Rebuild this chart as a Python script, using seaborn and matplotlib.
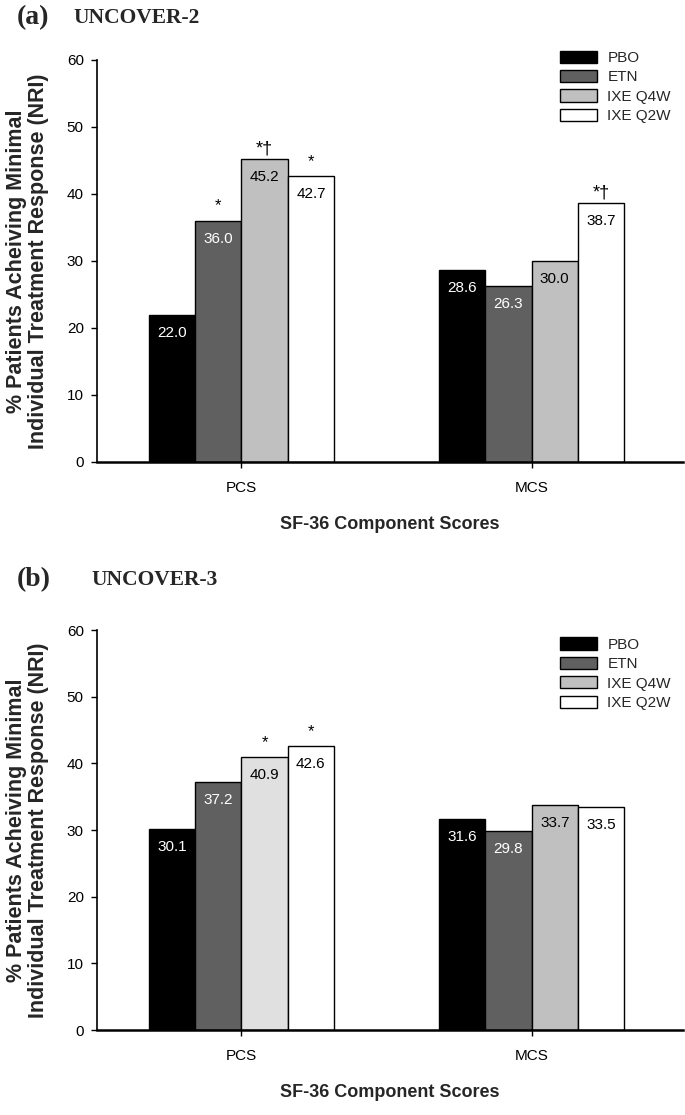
import matplotlib
matplotlib.use('Agg')
import matplotlib.pyplot as plt
import seaborn as sns
import pandas as pd

components = ['PCS', 'MCS']
treatments = ['PBO', 'ETN', 'IXE Q4W', 'IXE Q2W']

# UNCOVER-2
u2_pbo = [22.0, 28.6]
u2_etn = [36.0, 26.3]
u2_q4w = [45.2, 30.0]
u2_q2w = [42.7, 38.7]
u2_marks = {('ETN', 'PCS'): '*', ('IXE Q4W', 'PCS'): '*\u2020',
            ('IXE Q2W', 'PCS'): '*', ('IXE Q2W', 'MCS'): '*\u2020'}

# UNCOVER-3
u3_pbo = [30.1, 31.6]
u3_etn = [37.2, 29.8]
u3_q4w = [40.9, 33.7]
u3_q2w = [42.6, 33.5]
u3_marks = {('IXE Q4W', 'PCS'): '*', ('IXE Q2W', 'PCS'): '*'}

colors = ['#000000', '#606060', '#c0c0c0', '#ffffff']
label_colors = ['white', 'white', 'black', 'black']

sns.set_style('white')
plt.rcParams['font.family'] = ['Liberation Sans', 'DejaVu Sans']


def make_df(pbo, etn, q4w, q2w):
    rows = []
    for t, vals in zip(treatments, [pbo, etn, q4w, q2w]):
        for c, v in zip(components, vals):
            rows.append({'component': c, 'treatment': t, 'value': v})
    return pd.DataFrame(rows)


def draw_panel(ax, df, marks, leg_y):
    sns.barplot(data=df, x='component', y='value', hue='treatment',
                hue_order=treatments, order=components, palette=colors,
                width=0.638, gap=0, edgecolor='black', linewidth=1.0,
                saturation=1, errorbar=None, ax=ax)
    ax.set_ylim(0, 60)
    ax.set_xlim(-0.498, 1.522)
    ax.set_yticks(range(0, 61, 10))
    ax.tick_params(axis='both', direction='out', length=4.5, width=1,
                   labelsize=11, left=True, bottom=True, colors='black')
    ax.tick_params(axis='y', pad=5)
    ax.tick_params(axis='x', pad=9)
    sns.despine(ax=ax)
    ax.spines['left'].set_linewidth(1.2)
    ax.spines['bottom'].set_linewidth(1.8)
    ax.spines['left'].set_color('black')
    ax.spines['bottom'].set_color('black')
    ax.set_xlabel('SF-36 Component Scores', fontsize=13, fontweight='bold', labelpad=15)
    ax.set_ylabel('% Patients Acheiving Minimal\nIndividual Treatment Response (NRI)',
                  fontsize=15.5, fontweight='bold', linespacing=1.05)
    ax.yaxis.set_label_coords(-0.082, 0.5)

    for cont, t, lc in zip(ax.containers, treatments, label_colors):
        ax.bar_label(cont, fmt='%.1f', padding=-18, color=lc, fontsize=11)
        for bar, c in zip(cont, components):
            m = marks.get((t, c))
            if m == '*':
                x = bar.get_x() + bar.get_width() / 2
                ax.text(x, bar.get_height() + 2.2, m, ha='center', va='center',
                        fontsize=12, color='black')
            elif m:
                x = bar.get_x() + bar.get_width() / 2
                ax.text(x, bar.get_height() + 0.2, m, ha='center', va='bottom',
                        fontsize=13, color='black')

    ax.legend(title=None, frameon=False, loc='upper left',
              bbox_to_anchor=(0.8175, leg_y), bbox_transform=ax.figure.transFigure,
              borderaxespad=0, borderpad=0, fontsize=11,
              handlelength=2.45, handleheight=0.85, labelspacing=0.33,
              handletextpad=0.65)


fig = plt.figure(figsize=(6.85, 11.15), dpi=100)
ax1 = fig.add_axes([0.1416, 0.5857, 0.8555, 0.3605])
ax2 = fig.add_axes([0.1416, 0.0762, 0.8555, 0.3587])

draw_panel(ax1, make_df(u2_pbo, u2_etn, u2_q4w, u2_q2w), u2_marks, 0.9547)
draw_panel(ax2, make_df(u3_pbo, u3_etn, u3_q4w, u3_q2w), u3_marks, 0.4283)

# lighter IXE Q4W bar for PCS in UNCOVER-3
ax2.containers[2][0].set_facecolor('#e0e0e0')

fig.text(0.025, 0.9839, '(a)', fontsize=20, fontweight='bold',
         family='Liberation Serif', va='center')
fig.text(0.107, 0.9839, 'UNCOVER-2', fontsize=15.5, fontweight='bold',
         family='Liberation Serif', va='center')
fig.text(0.025, 0.4798, '(b)', fontsize=20, fontweight='bold',
         family='Liberation Serif', va='center')
fig.text(0.134, 0.4798, 'UNCOVER-3', fontsize=15.5, fontweight='bold',
         family='Liberation Serif', va='center')

fig.savefig('out.png', dpi=100)
